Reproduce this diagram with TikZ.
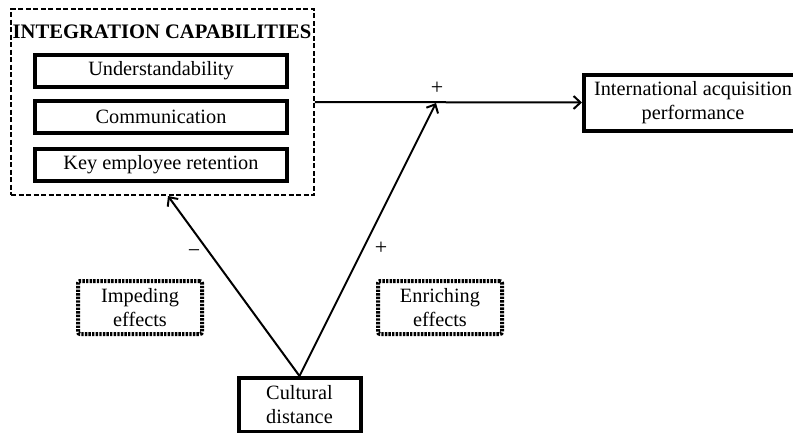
\documentclass[tikz,border=0pt]{standalone}
\usepackage{fontspec}
\setmainfont{Liberation Serif}
\usetikzlibrary{arrows.meta}
\begin{document}
\begin{tikzpicture}[x=1pt,y=-1pt,
  every node/.style={font=\fontsize{20.3}{24}\selectfont, inner sep=0pt, align=center},
  thickbox/.style={draw, line width=4pt, minimum width=#1},
  dashbox/.style={draw, line width=1.7pt, dash pattern=on 5pt off 2.5pt},
  dotbox/.style={draw, line width=4pt, dash pattern=on 2.4pt off 1.2pt, rounded corners=2pt},
  conn/.style={line width=2pt, -{Straight Barb[length=7pt,width=13pt,line width=2pt]}},
  sign/.style={font=\fontsize{22}{24}\selectfont}
]
\useasboundingbox (0,0) rectangle (793,432);
\node[dashbox, minimum width=303pt, minimum height=186pt] (ic) at (162.5,102) {};
\node[font=\fontsize{20.6}{24}\selectfont\bfseries] (title) at (162,32) {INTEGRATION CAPABILITIES};
\node[thickbox=252pt, minimum height=32pt] (u) at (161,70.5) {Understandability};
\node[thickbox=252pt, minimum height=32pt] (c) at (161,117) {Communication};
\node[thickbox=252pt, minimum height=32pt] (k) at (161,165) {Key employee retention};
\node[thickbox=218pt, minimum height=56pt] (perf) at (693,102.5) {International acquisition\\performance};
\node[thickbox=122pt, minimum height=54pt] (cd) at (299.5,405) {Cultural\\distance};
\node[dotbox, minimum width=124pt, minimum height=53pt] (imp) at (140,307.5) {Impeding\\effects};
\node[dotbox, minimum width=124pt, minimum height=53pt] (enr) at (440,307.5) {Enriching\\effects};
\coordinate (lt) at (168,196);
\coordinate (rt) at (436,103);
\draw[conn] (ic.east) -- (perf.west);
\draw[conn] (cd.north) -- (lt);
\draw[conn] (cd.north) -- (rt);
\node[sign] (p1) at (437,88) {+};
\node[sign] (m1) at (194,254) {−};
\node[sign] (p2) at (381,248) {+};
\end{tikzpicture}
\end{document}
